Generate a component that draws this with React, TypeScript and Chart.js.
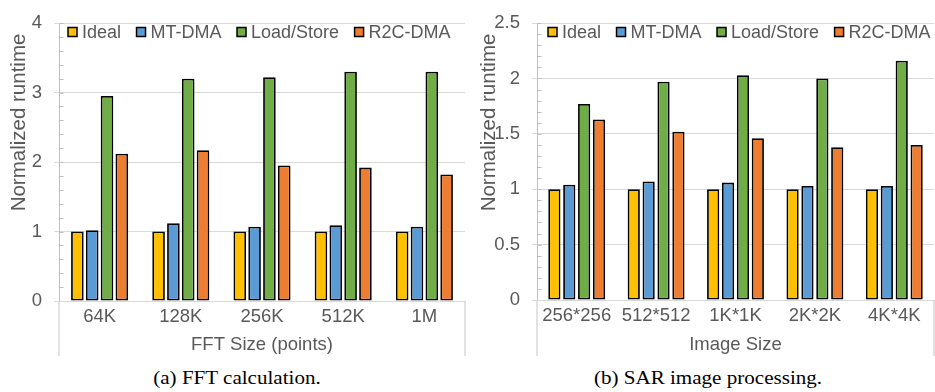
import React, { useEffect, useRef } from 'react';
import { Chart, registerables } from 'chart.js';

Chart.register(...registerables);

// ---------- data ----------
const seriesNames = ['Ideal', 'MT-DMA', 'Load/Store', 'R2C-DMA'];
const seriesColors = ['#FFC000', '#5B9BD5', '#70AD47', '#ED7D31'];

const fftCategories = ['64K', '128K', '256K', '512K', '1M'];
const fftIdeal = [1, 1, 1, 1, 1];
const fftMtDma = [1.02, 1.12, 1.07, 1.09, 1.07];
const fftLoadStore = [2.95, 3.2, 3.22, 3.3, 3.3];
const fftR2cDma = [2.12, 2.17, 1.95, 1.92, 1.82];
const fftYMax = 4;
const fftYMajor = 1;
const fftYMinor = 0.2;

const sarCategories = ['256*256', '512*512', '1K*1K', '2K*2K', '4K*4K'];
const sarIdeal = [1, 1, 1, 1, 1];
const sarMtDma = [1.04, 1.07, 1.06, 1.03, 1.03];
const sarLoadStore = [1.77, 1.97, 2.03, 2.0, 2.16];
const sarR2cDma = [1.63, 1.52, 1.46, 1.38, 1.4];
const sarYMax = 2.5;
const sarYMajor = 0.5;
const sarYMinor = 0.1;

const yTitle = 'Normalized runtime';
const fftXTitle = 'FFT Size (points)';
const sarXTitle = 'Image Size';
const fftCaption = '(a) FFT calculation.';
const sarCaption = '(b) SAR image processing.';

// ---------- styles ----------
const FONT = "'Liberation Sans', Arial, Helvetica, sans-serif";
const TEXT = '#595959';
const GRID = '#d9d9d9';
const AXIS = '#bfbfbf';

const overlayPlugin = {
  id: 'overlay',
  beforeDatasetsDraw(chart: any, _args: any, opts: any) {
    const ctx = chart.ctx as CanvasRenderingContext2D;
    const ys = chart.scales.y;
    const ca = chart.chartArea;
    ctx.save();
    // minor ticks inside the value axis
    ctx.strokeStyle = AXIS;
    ctx.lineWidth = 1;
    for (let k = 1; k * opts.yMinor < opts.yMax + 1e-9; k++) {
      const y = Math.round(ys.getPixelForValue(k * opts.yMinor)) + 0.5;
      ctx.beginPath();
      ctx.moveTo(ca.left, y);
      ctx.lineTo(ca.left + 4.5, y);
      ctx.stroke();
    }
    // plot-edge lines below the category axis
    ctx.strokeStyle = GRID;
    ctx.lineWidth = 1.5;
    [ca.left, ca.right].forEach((x: number) => {
      ctx.beginPath();
      ctx.moveTo(x, ca.bottom);
      ctx.lineTo(x, opts.lineBottom);
      ctx.stroke();
    });
    ctx.restore();
  },
  afterDraw(chart: any, _args: any, opts: any) {
    const ctx = chart.ctx as CanvasRenderingContext2D;
    // y title
    ctx.save();
    ctx.fillStyle = TEXT;
    ctx.font = `20.5px ${FONT}`;
    ctx.translate(opts.yTitleX, opts.yTitleY);
    ctx.rotate(-Math.PI / 2);
    ctx.textAlign = 'center';
    ctx.textBaseline = 'middle';
    ctx.fillText(opts.yTitle, 0, 0);
    ctx.restore();
    // legend
    ctx.save();
    ctx.font = `18px ${FONT}`;
    ctx.textBaseline = 'middle';
    ctx.textAlign = 'left';
    let x = opts.legendX;
    const y = opts.legendY;
    const box = 9;
    chart.data.datasets.forEach((ds: any) => {
      ctx.fillStyle = ds.backgroundColor;
      ctx.fillRect(x, y - box / 2, box, box);
      ctx.strokeStyle = '#000';
      ctx.lineWidth = 1.5;
      ctx.strokeRect(x, y - box / 2, box, box);
      ctx.fillStyle = TEXT;
      const tx = x + box + 5;
      ctx.fillText(ds.label, tx, y + 1);
      x = tx + ctx.measureText(ds.label).width + 15.5;
    });
    ctx.restore();
  },
};

type PanelCfg = {
  categories: string[];
  values: number[][];
  yMax: number;
  yMajor: number;
  yMinor: number;
  xTitle: string;
  canvasW: number;
  canvasH: number;
  yWidth: number;
  padRight: number;
  plotBottom: number;
  lineBottom: number;
  legendX: number;
  yTitleX: number;
  catPct: number;
  barPct: number;
};

function ChartPanel({ cfg, left }: { cfg: PanelCfg; left: number }) {
  const ref = useRef<HTMLCanvasElement>(null);
  useEffect(() => {
    if (!ref.current) return;
    const xHeight = cfg.canvasH - cfg.plotBottom;
    const chart = new Chart(ref.current, {
      type: 'bar',
      data: {
        labels: cfg.categories,
        datasets: seriesNames.map((name, i) => ({
          label: name,
          data: cfg.values[i],
          backgroundColor: seriesColors[i],
          borderColor: '#000000',
          borderWidth: 1.8,
          borderSkipped: false,
          categoryPercentage: cfg.catPct,
          barPercentage: cfg.barPct,
        })),
      },
      options: {
        responsive: false,
        animation: false,
        devicePixelRatio: 1,
        layout: { padding: { top: 16, left: 0, right: cfg.padRight, bottom: 0 } },
        plugins: {
          legend: { display: false },
          tooltip: { enabled: false },
          overlay: {
            yTitle,
            yTitleX: cfg.yTitleX,
            yTitleY: 122.5,
            legendX: cfg.legendX,
            legendY: 32,
            yMinor: cfg.yMinor,
            yMax: cfg.yMax,
            lineBottom: cfg.lineBottom,
          },
        } as any,
        scales: {
          x: {
            type: 'category',
            position: 'bottom',
            offset: true,
            grid: { display: false, drawTicks: false, tickLength: 0 },
            border: { display: true, color: GRID, width: 1 },
            ticks: {
              color: TEXT,
              font: { family: FONT, size: 18.5 },
              padding: 5,
              maxRotation: 0,
              autoSkip: false,
            },
            title: {
              display: true,
              text: cfg.xTitle,
              color: TEXT,
              font: { family: FONT, size: 18.5 },
              padding: { top: 0, bottom: 4 },
            },
            afterFit: (s: any) => {
              s.height = xHeight;
            },
          },
          y: {
            type: 'linear',
            position: 'left',
            min: 0,
            max: cfg.yMax,
            ticks: {
              stepSize: cfg.yMajor,
              color: TEXT,
              font: { family: FONT, size: 18.5 },
              padding: 12,
              callback: (v: any) => String(Math.round(Number(v) * 100) / 100),
            },
            grid: { color: GRID, tickColor: GRID, tickLength: 5, lineWidth: 1 },
            border: { display: true, color: AXIS, width: 1 },
            afterFit: (s: any) => {
              s.width = cfg.yWidth;
            },
          },
        } as any,
      },
      plugins: [overlayPlugin as any],
    });
    return () => chart.destroy();
  }, []);
  return (
    <canvas
      ref={ref}
      width={cfg.canvasW}
      height={cfg.canvasH}
      style={{ position: 'absolute', left, top: 0, width: cfg.canvasW, height: cfg.canvasH }}
    />
  );
}

const fftCfg: PanelCfg = {
  categories: fftCategories,
  values: [fftIdeal, fftMtDma, fftLoadStore, fftR2cDma],
  yMax: fftYMax,
  yMajor: fftYMajor,
  yMinor: fftYMinor,
  xTitle: fftXTitle,
  canvasW: 468,
  canvasH: 360,
  yWidth: 59,
  padRight: 3,
  plotBottom: 301,
  lineBottom: 356,
  legendX: 68,
  yTitleX: 19,
  catPct: 0.73,
  barPct: 0.85,
};

const sarCfg: PanelCfg = {
  categories: sarCategories,
  values: [sarIdeal, sarMtDma, sarLoadStore, sarR2cDma],
  yMax: sarYMax,
  yMajor: sarYMajor,
  yMinor: sarYMinor,
  xTitle: sarXTitle,
  canvasW: 467,
  canvasH: 360,
  yWidth: 69,
  padRight: 1,
  plotBottom: 300,
  lineBottom: 356,
  legendX: 80,
  yTitleX: 21.5,
  catPct: 0.75,
  barPct: 0.82,
};

function Caption({ text, center }: { text: string; center: number }) {
  return (
    <div
      style={{
        position: 'absolute',
        left: center - 200,
        width: 400,
        top: 369,
        textAlign: 'center',
        fontFamily: "'Liberation Serif', 'Times New Roman', serif",
        fontSize: 18,
        lineHeight: '18px',
        color: '#000',
        whiteSpace: 'nowrap',
        transform: 'scaleX(1.17)',
        transformOrigin: 'center',
      }}
    >
      {text}
    </div>
  );
}

export default function App() {
  return (
    <div
      style={{
        position: 'absolute',
        left: 0,
        top: 0,
        width: 935,
        height: 392,
        background: '#fff',
        overflow: 'hidden',
      }}
    >
      <ChartPanel cfg={fftCfg} left={0} />
      <ChartPanel cfg={sarCfg} left={468} />
      <Caption text={fftCaption} center={236.7} />
      <Caption text={sarCaption} center={707.5} />
    </div>
  );
}
